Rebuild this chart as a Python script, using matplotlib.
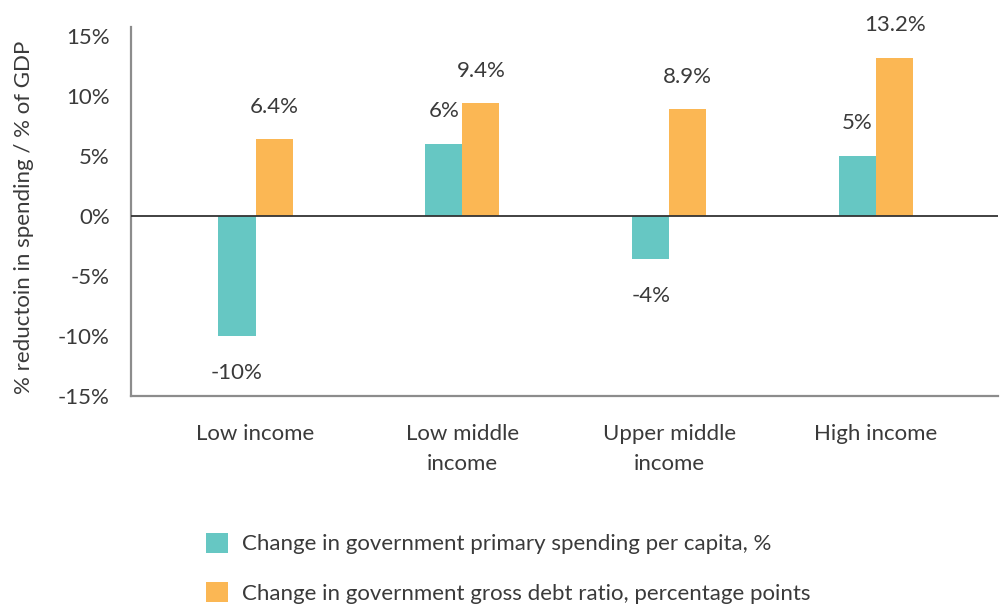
import matplotlib
matplotlib.use("Agg")
import matplotlib.pyplot as plt
import numpy as np
from matplotlib.ticker import FuncFormatter

plt.rcParams['font.family'] = ['Lato', 'DejaVu Sans']

categories = ["Low income", "Low middle\nincome", "Upper middle\nincome", "High income"]
spending_change = [-10, 6, -3.6, 5]
debt_change = [6.4, 9.4, 8.9, 13.2]
series_names = ["Change in government primary spending per capita, %",
                "Change in government gross debt ratio, percentage points"]
y_ticks = [-15, -10, -5, 0, 5, 10, 15]

TEAL = "#66C7C3"
ORANGE = "#FBB754"
TEXT = "#3A3A3A"
FS = 16

fig = plt.figure(figsize=(10, 6.08), dpi=100)
ax = fig.add_axes([0.1306, 0.3487, 0.8674, 0.6069])

x = np.arange(len(categories))
w = 0.179
b1 = ax.bar(x - w / 2, spending_change, w, color=TEAL, label=series_names[0])
b2 = ax.bar(x + w / 2, debt_change, w, color=ORANGE, label=series_names[1])

def annotate(bars, vals, fmt):
    for bar, v in zip(bars, vals):
        cx = bar.get_x() + bar.get_width() / 2
        off = 23.5 if v >= 0 else -26.5
        ax.annotate(fmt(v), (cx, v), xytext=(0, off), textcoords="offset points",
                    ha="center", va="center", fontsize=FS, color=TEXT)

annotate(b1, spending_change, lambda v: f"{v:.0f}%")
annotate(b2, debt_change, lambda v: f"{v:.1f}%")

ax.axhline(0, color="#333333", lw=1.3, zorder=3)
ax.set_xlim(-125 / 207, 3 + 122 / 207)
ax.set_ylim(-15, 15.75)
ax.set_yticks(y_ticks)
ax.yaxis.set_major_formatter(FuncFormatter(lambda v, p: f"{v:.0f}%"))
ax.set_xticks(x)
ax.set_xticklabels(categories, fontsize=FS, color=TEXT, linespacing=1.6)
ax.tick_params(axis="x", length=0, pad=20.5)
ax.tick_params(axis="y", length=0, pad=15, labelsize=FS, labelcolor=TEXT)
for lbl in ax.get_yticklabels():
    lbl.set_verticalalignment("center_baseline")
for s in ["top", "right"]:
    ax.spines[s].set_visible(False)
for s in ["left", "bottom"]:
    ax.spines[s].set_color("#8C8C8C")
    ax.spines[s].set_linewidth(1.6)

fig.text(0.024, 0.643, "% reductoin in spending / % of GDP", rotation=90,
         ha="center", va="center", fontsize=FS, color=TEXT)

fig.legend(handles=[b1, b2], labels=series_names, loc="upper left",
           bbox_to_anchor=(0.206, 0.1236), bbox_transform=fig.transFigure,
           frameon=False, fontsize=FS, labelcolor=TEXT,
           handlelength=1.0, handleheight=1.0, handletextpad=0.6, labelspacing=1.24,
           borderaxespad=0, borderpad=0)

fig.savefig("out.png", dpi=100)
